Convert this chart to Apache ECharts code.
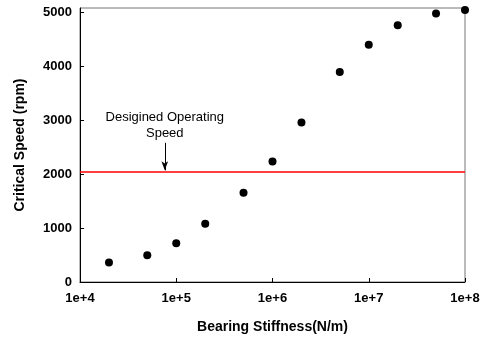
<!DOCTYPE html>
<html>
<head>
<meta charset="utf-8">
<script src="https://cdn.jsdelivr.net/npm/echarts@6/dist/echarts.min.js"></script>
<style>
  html, body { margin: 0; padding: 0; background: #fff; }
  #chart { width: 486px; height: 339px; }
</style>
</head>
<body>
<div id="chart"></div>
<script>
// bearing stiffness (N/m) vs critical speed (rpm)
const stiffness = [2e4, 5e4, 1e5, 2e5, 5e5, 1e6, 2e6, 5e6, 1e7, 2e7, 5e7, 1e8];
const criticalSpeed = [360, 497, 720, 1078, 1655, 2235, 2955, 3895, 4400, 4760, 4978, 5045];
const designSpeed = 2045;
// annotation arrow: x position and top of the arrow
const arrowX = 7.6e4;
const arrowTop = 2580;
const noteText = 'Desigined Operating\nSpeed';

const FONT = '"Liberation Sans", Arial, sans-serif';

const chart = echarts.init(document.getElementById('chart'));
const option = {
    animation: false,
    backgroundColor: '#fff',
    grid: {
        left: 80, right: 21, top: 8, bottom: 57,
        show: true,
        borderColor: '#777',
        borderWidth: 1
    },
    xAxis: {
        type: 'log',
        logBase: 10,
        min: 1e4,
        max: 1e8,
        name: 'Bearing Stiffness(N/m)',
        nameLocation: 'middle',
        nameGap: 38,
        nameTextStyle: { fontFamily: FONT, fontWeight: 'bold', fontSize: 14, color: '#000' },
        axisLine: { lineStyle: { color: '#000', width: 1 } },
        axisTick: { inside: true, length: 4, lineStyle: { color: '#000' } },
        minorTick: { show: false },
        splitLine: { show: false },
        axisLabel: {
            fontFamily: FONT, fontWeight: 'bold', fontSize: 13, color: '#000', margin: 10,
            formatter: function (v) { return '1e+' + Math.round(Math.log10(v)); }
        }
    },
    yAxis: {
        type: 'value',
        min: 0,
        max: 5080,
        interval: 1000,
        name: 'Critical Speed (rpm)',
        nameLocation: 'middle',
        nameGap: 53,
        nameTextStyle: { fontFamily: FONT, fontWeight: 'bold', fontSize: 14, color: '#000' },
        axisLine: { show: true, lineStyle: { color: '#000', width: 1 } },
        axisTick: { show: true, inside: true, length: 4, lineStyle: { color: '#000' } },
        splitLine: { show: false },
        axisLabel: {
            fontFamily: FONT, fontWeight: 'bold', fontSize: 13, color: '#000', margin: 8,
            showMaxLabel: false,
            formatter: function (v) { return String(v); }
        }
    },
    series: [
        {
            type: 'scatter',
            data: stiffness.map((x, i) => [x, criticalSpeed[i]]),
            symbolSize: 8,
            itemStyle: { color: '#000', opacity: 1 },
            clip: false,
            markLine: {
                silent: true,
                animation: false,
                data: [
                    [
                        { coord: [1e4, designSpeed], symbol: 'none' },
                        { coord: [1e8, designSpeed], symbol: 'none' }
                    ],
                    [
                        { coord: [arrowX, arrowTop], symbol: 'none', lineStyle: { color: '#000', width: 1 } },
                        { coord: [arrowX, designSpeed + 25], symbol: 'arrow', symbolSize: [5, 9], lineStyle: { color: '#000', width: 1 }, itemStyle: { color: '#000' } }
                    ]
                ],
                lineStyle: { color: '#ff0000', width: 1.5, type: 'solid' },
                label: { show: false }
            },
            markPoint: {
                silent: true,
                symbol: 'circle',
                symbolSize: 0,
                data: [{ coord: [arrowX, arrowTop] }],
                label: {
                    show: true,
                    position: 'top',
                    distance: 1,
                    formatter: noteText,
                    fontFamily: FONT,
                    fontSize: 13,
                    lineHeight: 16,
                    color: '#000',
                    align: 'center'
                }
            }
        }
    ]
};
chart.setOption(option);
</script>
</body>
</html>
